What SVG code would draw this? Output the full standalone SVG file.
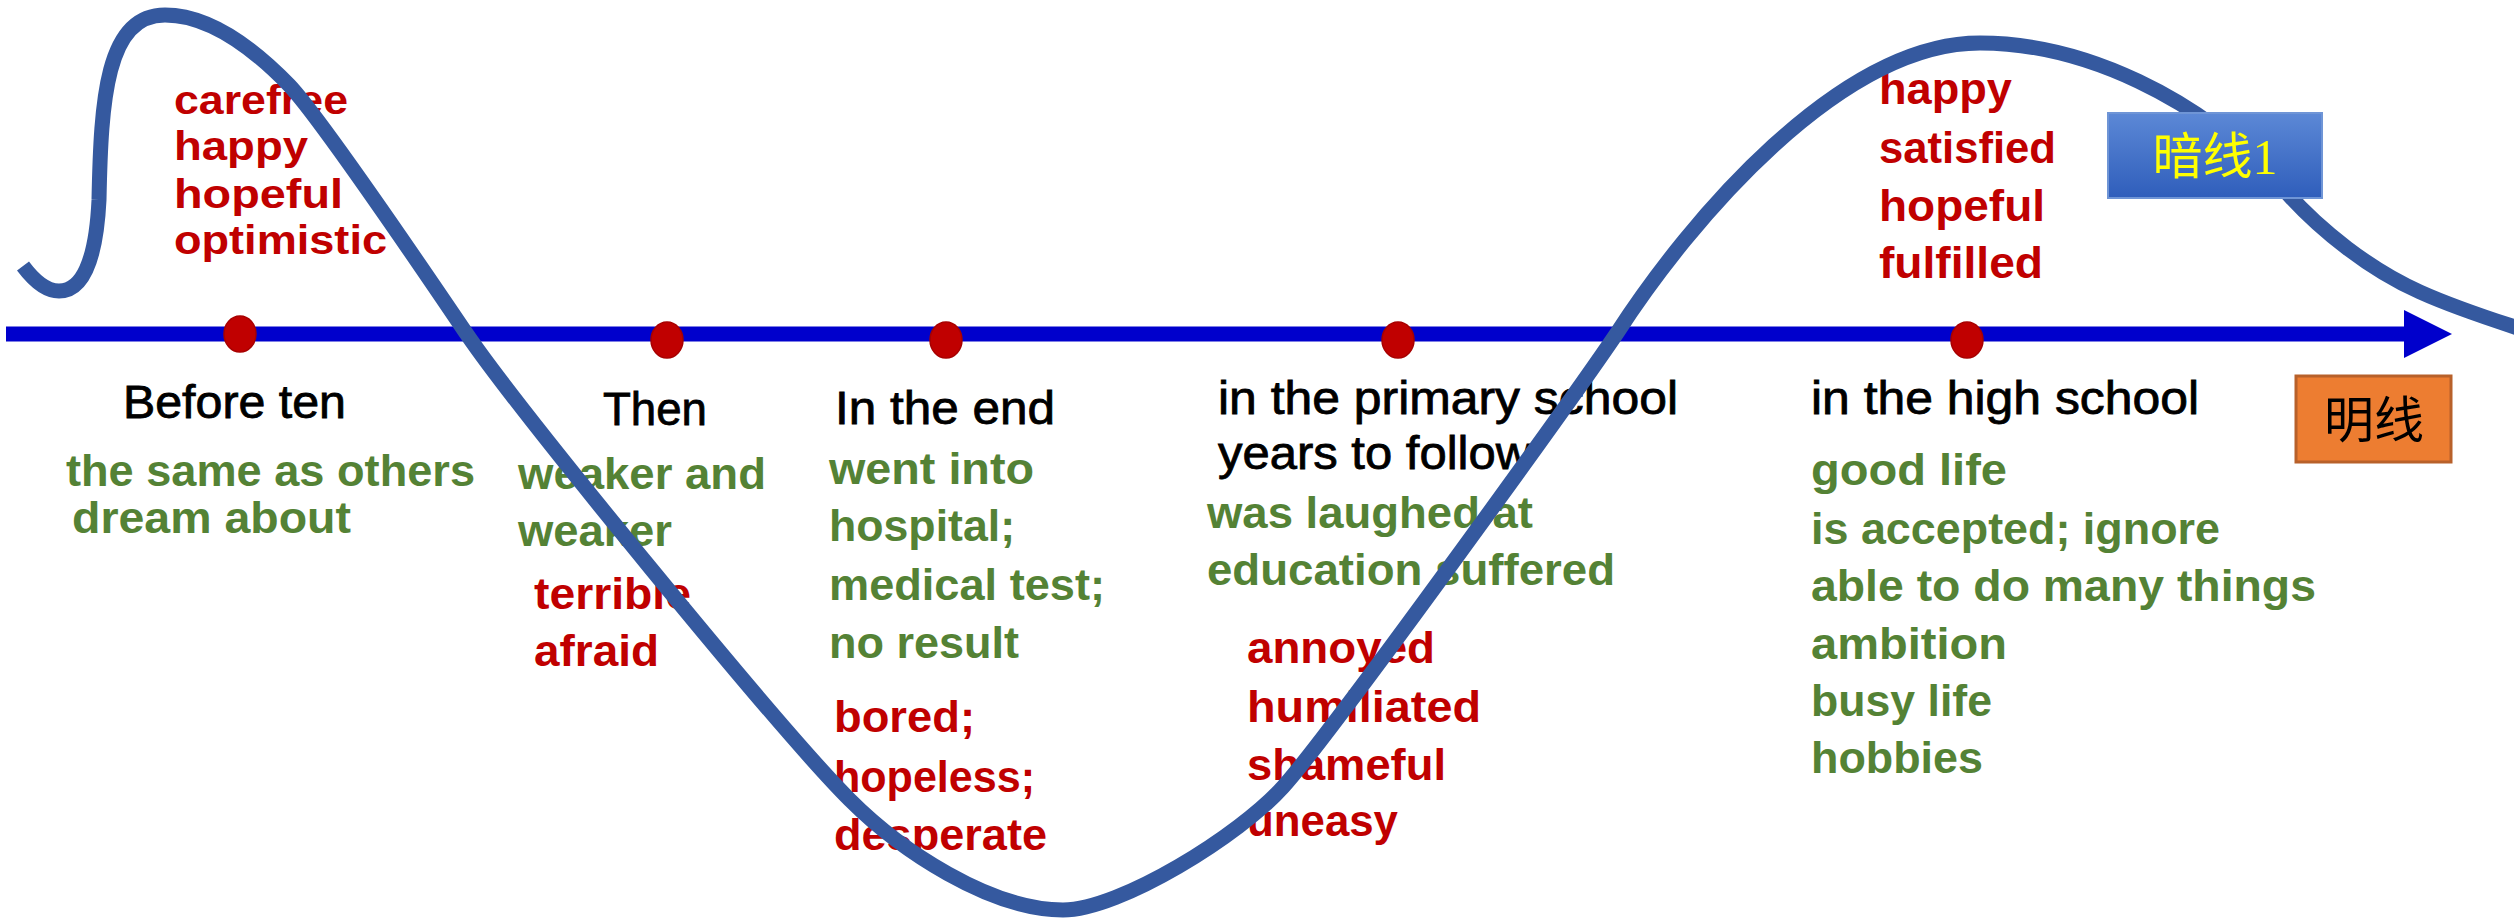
<svg xmlns="http://www.w3.org/2000/svg" width="2514" height="920" viewBox="0 0 2514 920">
<style>
.r{font-family:"Liberation Sans",Arial,sans-serif;font-weight:bold;font-size:45px;fill:#C00000}
.rs{font-family:"Liberation Sans",Arial,sans-serif;font-weight:bold;font-size:40px;fill:#C00000}
.g{font-family:"Liberation Sans",Arial,sans-serif;font-weight:bold;font-size:45px;fill:#548235}
.k{font-family:"Liberation Sans",Arial,sans-serif;font-weight:normal;font-size:46px;fill:#000000;stroke:#000000;stroke-width:0.8}
.dot{fill:#C00000;stroke:#A80000;stroke-width:1.5}
.zh{font-family:"Liberation Serif","Noto Sans CJK SC",serif;font-size:50px;text-anchor:middle}
</style>
<defs>
<linearGradient id="blueBox" x1="0" y1="0" x2="0" y2="1">
<stop offset="0" stop-color="#5C88D6"/>
<stop offset="1" stop-color="#2F5EBB"/>
</linearGradient>
<marker id="arrow" markerUnits="userSpaceOnUse" markerWidth="50" markerHeight="50" refX="2" refY="24" orient="auto">
<polygon points="0,0 48,24 0,48" fill="#0000CC"/>
</marker>
</defs>
<rect width="2514" height="920" fill="#FFFFFF"/>

<g id="connectors">
<line id="timeline" x1="6" y1="334" x2="2406" y2="334" stroke="#0000CC" stroke-width="15" marker-end="url(#arrow)"/>
</g>

<g id="dots">
<ellipse class="dot" cx="240" cy="334" rx="16" ry="18"/>
<ellipse class="dot" cx="667" cy="340" rx="16" ry="18"/>
<ellipse class="dot" cx="946" cy="340" rx="16" ry="18"/>
<ellipse class="dot" cx="1398" cy="340" rx="16" ry="18"/>
<ellipse class="dot" cx="1967" cy="340" rx="16" ry="18"/>
</g>

<g id="node-before-ten">
<text class="rs" x="174" y="114" textLength="174" lengthAdjust="spacingAndGlyphs">carefree</text>
<text class="rs" x="174" y="160" textLength="134" lengthAdjust="spacingAndGlyphs">happy</text>
<text class="rs" x="174" y="208" textLength="169" lengthAdjust="spacingAndGlyphs">hopeful</text>
<text class="rs" x="174" y="254" textLength="213" lengthAdjust="spacingAndGlyphs">optimistic</text>
<text class="k" x="123" y="418" textLength="223" lengthAdjust="spacingAndGlyphs">Before ten</text>
<text class="g" x="66" y="486" textLength="409" lengthAdjust="spacingAndGlyphs">the same as others</text>
<text class="g" x="72" y="533" textLength="279" lengthAdjust="spacingAndGlyphs">dream about</text>
</g>

<g id="node-then">
<text class="k" x="603" y="425" textLength="104" lengthAdjust="spacingAndGlyphs">Then</text>
<text class="g" x="518" y="489" textLength="248" lengthAdjust="spacingAndGlyphs">weaker and</text>
<text class="g" x="518" y="546" textLength="154" lengthAdjust="spacingAndGlyphs">weaker</text>
<text class="r" x="534" y="609" textLength="157" lengthAdjust="spacingAndGlyphs">terrible</text>
<text class="r" x="534" y="666" textLength="125" lengthAdjust="spacingAndGlyphs">afraid</text>
</g>

<g id="node-in-the-end">
<text class="k" x="835" y="424" textLength="220" lengthAdjust="spacingAndGlyphs">In the end</text>
<text class="g" x="829" y="484" textLength="205" lengthAdjust="spacingAndGlyphs">went into</text>
<text class="g" x="829" y="541" textLength="186" lengthAdjust="spacingAndGlyphs">hospital;</text>
<text class="g" x="829" y="600" textLength="276" lengthAdjust="spacingAndGlyphs">medical test;</text>
<text class="g" x="829" y="658" textLength="190" lengthAdjust="spacingAndGlyphs">no result</text>
<text class="r" x="834" y="732" textLength="141" lengthAdjust="spacingAndGlyphs">bored;</text>
<text class="r" x="834" y="792" textLength="201" lengthAdjust="spacingAndGlyphs">hopeless;</text>
<text class="r" x="834" y="850" textLength="213" lengthAdjust="spacingAndGlyphs">desperate</text>
</g>

<g id="node-primary-school">
<text class="k" x="1218" y="414" textLength="460" lengthAdjust="spacingAndGlyphs">in the primary school</text>
<text class="k" x="1218" y="469" textLength="313" lengthAdjust="spacingAndGlyphs">years to follow</text>
<text class="g" x="1207" y="528" textLength="326" lengthAdjust="spacingAndGlyphs">was laughed at</text>
<text class="g" x="1207" y="585" textLength="408" lengthAdjust="spacingAndGlyphs">education suffered</text>
<text class="r" x="1247" y="663" textLength="188" lengthAdjust="spacingAndGlyphs">annoyed</text>
<text class="r" x="1247" y="722" textLength="234" lengthAdjust="spacingAndGlyphs">humiliated</text>
<text class="r" x="1247" y="780" textLength="199" lengthAdjust="spacingAndGlyphs">shameful</text>
<text class="r" x="1247" y="836" textLength="151" lengthAdjust="spacingAndGlyphs">uneasy</text>
</g>

<g id="node-high-school">
<text class="r" x="1879" y="104" textLength="133" lengthAdjust="spacingAndGlyphs">happy</text>
<text class="r" x="1879" y="163" textLength="177" lengthAdjust="spacingAndGlyphs">satisfied</text>
<text class="r" x="1879" y="221" textLength="166" lengthAdjust="spacingAndGlyphs">hopeful</text>
<text class="r" x="1879" y="278" textLength="164" lengthAdjust="spacingAndGlyphs">fulfilled</text>
<text class="k" x="1811" y="414" textLength="388" lengthAdjust="spacingAndGlyphs">in the high school</text>
<text class="g" x="1811" y="485" textLength="196" lengthAdjust="spacingAndGlyphs">good life</text>
<text class="g" x="1811" y="544" textLength="409" lengthAdjust="spacingAndGlyphs">is accepted; ignore</text>
<text class="g" x="1811" y="601" textLength="505" lengthAdjust="spacingAndGlyphs">able to do many things</text>
<text class="g" x="1811" y="659" textLength="196" lengthAdjust="spacingAndGlyphs">ambition</text>
<text class="g" x="1811" y="716" textLength="181" lengthAdjust="spacingAndGlyphs">busy life</text>
<text class="g" x="1811" y="773" textLength="172" lengthAdjust="spacingAndGlyphs">hobbies</text>
</g>

<g id="curve">
<path d="M23,266 C32,278 44,291 59,291 C82,291 96,262 99,200 C101,100 106,15 165,15 C210,15 255,50 289,85 C320,117 430,280 466,333 C520,412 780,730 850,800 C900,850 990,910 1063,910 C1120,910 1240,835 1283,787 C1330,735 1575,395 1617,333 C1690,220 1840,43 1980,43 C2080,43 2200,95 2287,193 C2320,230 2370,270 2420,292 C2460,310 2500,322 2530,332" fill="none" stroke="#35599F" stroke-width="15" stroke-linecap="butt" stroke-linejoin="round"/>
</g>

<g id="box-anxian">
<rect x="2108" y="113" width="214" height="85" fill="url(#blueBox)" stroke="#6F95D6" stroke-width="2"/>
<text class="zh" x="2215" y="174" fill="#FFFF00">暗线1</text>
</g>

<g id="box-mingxian">
<rect x="2296" y="376" width="155" height="86" fill="#ED7D31" stroke="#B8612A" stroke-width="3"/>
<text class="zh" x="2374" y="438" fill="#000000">明线</text>
</g>
</svg>
